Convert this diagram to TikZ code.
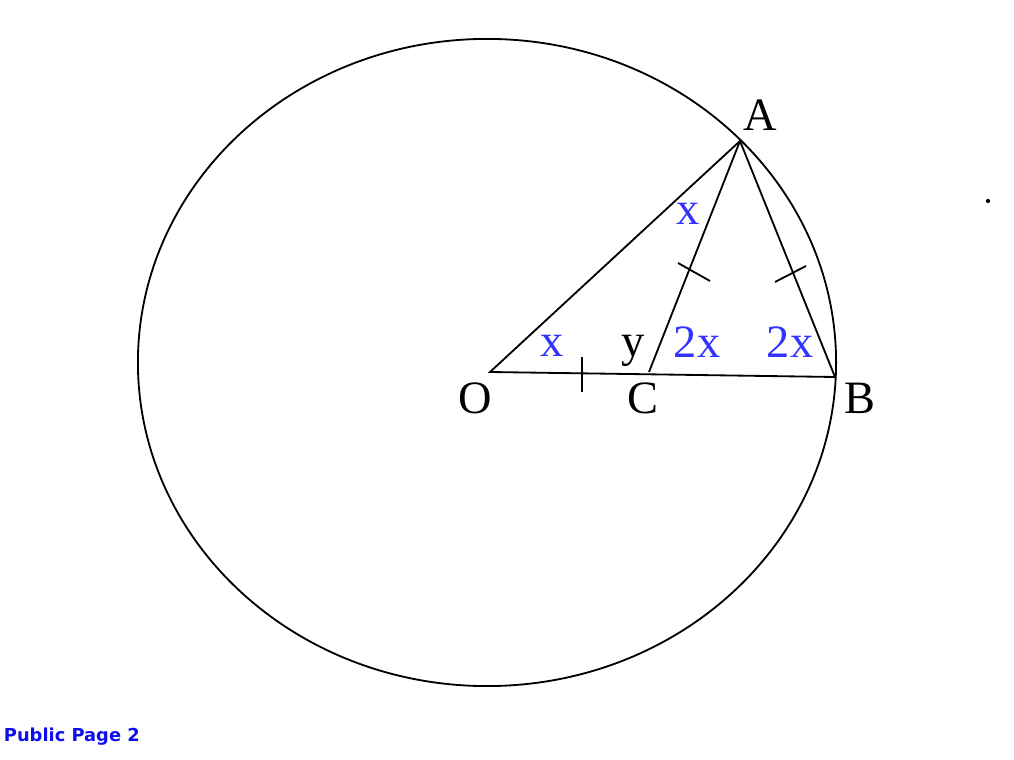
\documentclass[tikz,border=0pt]{standalone}
\usepackage{fontspec}
\setmainfont{Liberation Serif}
\newfontfamily\pubfont{DejaVu Sans}
\definecolor{anglblue}{RGB}{51,51,255}
\definecolor{pubblue}{RGB}{15,15,235}
\tikzset{
  ptlabel/.style={anchor=base,inner sep=0pt,font=\fontsize{33}{38}\selectfont},
  anglabel/.style={ptlabel,text=anglblue},
  tickmark/.style={line width=1.3pt}
}
\begin{document}
\begin{tikzpicture}[x=0.025cm,y=-0.025cm,line width=1.3pt]
                \useasboundingbox (0,0) rectangle (1014,760);
                \coordinate (O) at (490,372);
                \coordinate (A) at (740,141);
                \coordinate (B) at (835,377);
                \coordinate (C) at (649,372);
                \draw (487,362.5) ellipse [x radius=8.725cm,y radius=8.0875cm];
                \draw (O) -- (A) -- (B) -- cycle;
                \draw (A) -- (C);
                \draw[tickmark] (582,357) -- (582,392);
                \draw[tickmark] (678,263) -- (710,281);
                \draw[tickmark] (775,282) -- (806,266);
                \fill (988,201) circle (1.5pt);
                \node[ptlabel] (lA) at (760,131) {A};
                \node[ptlabel] (lO) at (475,414) {O};
                \node[ptlabel] (lC) at (643,414) {C};
                \node[ptlabel] (lB) at (860,414) {B};
                \node[ptlabel] (ly) at (633,357) {y};
                \node[anglabel] (xA) at (688,225) {x};
                \node[anglabel] (xO) at (552,357) {x};
                \node[anglabel] (tC) at (697,358) {2x};
                \node[anglabel] (tB) at (790,358) {2x};
                \node[anchor=base west,inner sep=0pt,text=pubblue,font=\pubfont\bfseries\fontsize{12.7}{15}\selectfont] (pub) at (3,741) {Public Page 2};
            \end{tikzpicture}
\end{document}
